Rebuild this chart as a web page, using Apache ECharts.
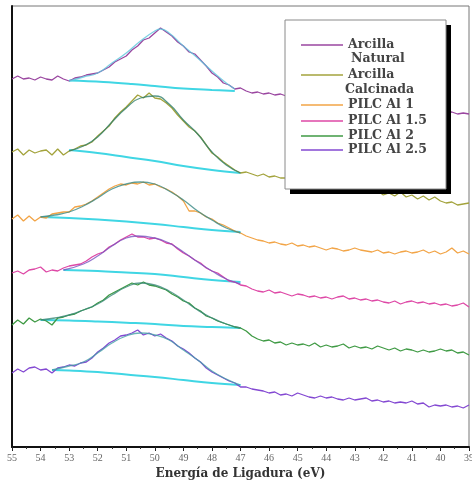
<!DOCTYPE html>
<html>
<head>
<meta charset="utf-8">
<script src="https://cdn.jsdelivr.net/npm/echarts@6/dist/echarts.min.js"></script>
<style>
html, body { margin: 0; padding: 0; background: #ffffff; }
#chart { width: 472px; height: 483px; }
</style>
</head>
<body>
<div id="chart"></div>
<script>
// XPS Al 2p region, binding energy (eV), stacked spectra with peak fit and Shirley background

// Acquisition grid: 55 -> 39 eV, 0.2 eV step
const energies = [];
for (let i = 0; i <= 80; i++) energies.push(+(55 - 0.2 * i).toFixed(1));

const sampleNames = ['Arcilla Natural', 'Arcilla Calcinada', 'PILC Al 1', 'PILC Al 1.5', 'PILC Al 2', 'PILC Al 2.5'];
const sampleColors = ['#9a46a0', '#a3a33c', '#f2a446', '#de48a6', '#3f9a44', '#8348d2'];
const fitColors = ['#5cc6dc', '#2f7f6c', '#3a8a86', '#7a55c0', '#3a8a78', '#45a0a8'];
const backgroundColor = '#40d6e4';

// Measured intensities (a.u., offset per sample)
const naturalCounts = [368, 371, 368, 369, 367, 370, 368, 367, 371, 368, 366, 369, 370, 372, 373, 374, 377, 380, 385, 388,
  391, 397, 401, 407, 409, 414, 419, 415, 411, 405, 401, 395, 393, 387, 381, 374, 370, 364, 362, 358,
  359, 356, 354, 355, 353, 354, 352, 353, 351, 352, 350, 349, 350, 348, 347, 348, 346, 345, 346, 344,
  343, 344, 342, 341, 342, 340, 339, 340, 338, 337, 338, 336, 337, 335, 336, 335, 334, 335, 333, 334, 333];
const calcinedCounts = [295, 298, 292, 297, 294, 296, 297, 292, 298, 292, 296, 298, 301, 302, 305, 311, 316, 321, 329, 335,
  340, 346, 352, 349, 354, 349, 348, 344, 339, 332, 326, 320, 316, 310, 302, 294, 290, 285, 281, 277,
  274, 275, 273, 271, 273, 270, 271, 269, 269, 267, 268, 266, 265, 266, 264, 263, 264, 262, 261, 262,
  260, 259, 260, 257, 256, 252, 254, 251, 255, 250, 252, 248, 251, 247, 250, 246, 244, 245, 242, 243, 244];
const pilc1Counts = [228, 232, 226, 231, 226, 230, 229, 233, 234, 235, 235, 240, 241, 243, 246, 250, 254, 258, 261, 263,
  262, 264, 263, 265, 262, 263, 260, 258, 255, 251, 246, 236, 236, 234, 230, 228, 224, 222, 219, 216,
  214, 211, 209, 207, 206, 204, 205, 203, 202, 204, 201, 202, 200, 201, 199, 197, 199, 198, 196, 197,
  199, 197, 196, 195, 197, 194, 195, 193, 195, 196, 194, 195, 197, 194, 196, 193, 195, 199, 194, 196, 193];
const pilc15Counts = [174, 176, 173, 177, 178, 180, 175, 177, 176, 179, 181, 182, 183, 186, 190, 193, 195, 200, 203, 207,
  210, 213, 210, 210, 208, 209, 207, 204, 203, 198, 194, 191, 187, 184, 179, 176, 174, 170, 166, 165,
  162, 161, 158, 156, 155, 157, 154, 155, 153, 151, 153, 152, 150, 151, 149, 150, 148, 150, 151, 148,
  149, 147, 148, 146, 147, 145, 144, 146, 143, 145, 146, 144, 145, 143, 144, 142, 143, 141, 142, 144, 140];
const pilc2Counts = [122, 127, 123, 129, 125, 128, 126, 122, 129, 130, 132, 133, 136, 138, 140, 144, 147, 152, 155, 158,
  161, 164, 162, 165, 162, 161, 159, 157, 153, 150, 146, 144, 139, 136, 131, 129, 126, 124, 122, 120,
  119, 116, 111, 108, 106, 107, 104, 105, 102, 104, 102, 103, 101, 104, 100, 102, 100, 101, 103, 99,
  101, 99, 100, 98, 101, 99, 97, 99, 96, 98, 97, 95, 97, 95, 96, 98, 96, 97, 94, 95, 92];
const pilc25Counts = [74, 78, 75, 79, 80, 77, 78, 74, 79, 80, 82, 81, 84, 85, 89, 95, 99, 104, 107, 111,
  112, 114, 117, 112, 114, 111, 113, 109, 106, 101, 98, 94, 89, 85, 79, 75, 72, 69, 66, 64,
  60, 60, 58, 57, 56, 54, 55, 52, 53, 51, 54, 52, 50, 49, 51, 49, 50, 48, 47, 49,
  47, 48, 49, 46, 47, 45, 46, 44, 45, 44, 46, 43, 44, 40, 42, 41, 42, 40, 41, 39, 42];

// Peak fit envelopes
const naturalFitE = [53.0, 52.5, 52.0, 51.5, 51.0, 50.5, 50.0, 49.8, 49.5, 49.0, 48.5, 48.0, 47.5, 47.2];
const naturalFit = [366, 370, 374, 384, 394, 406, 416, 418, 414, 401, 389, 376, 364, 358];
const calcinedFitE = [53.0, 52.5, 52.0, 51.5, 51.0, 50.5, 50.0, 49.5, 49.0, 48.5, 48.0, 47.5, 47.0];
const calcinedFit = [296, 301, 310, 325, 339, 349, 351, 343, 327, 313, 295, 282, 274];
const pilc1FitE = [54.0, 53.5, 53.0, 52.5, 52.0, 51.5, 51.0, 50.5, 50.0, 49.5, 49.0, 48.5, 48.0, 47.5, 47.0];
const pilc1Fit = [230, 232, 235, 241, 249, 258, 263, 265, 263, 256, 247, 236, 227, 219, 214];
const pilc15FitE = [53.2, 52.5, 52.0, 51.5, 51.0, 50.6, 50.0, 49.5, 49.0, 48.5, 48.0, 47.5, 47.0];
const pilc15Fit = [177, 183, 191, 201, 209, 211, 209, 204, 195, 185, 176, 168, 163];
const pilc2FitE = [54.0, 53.5, 53.0, 52.5, 52.0, 51.5, 51.0, 50.5, 50.0, 49.5, 49.0, 48.5, 48.0, 47.5, 47.0];
const pilc2Fit = [127, 129, 132, 137, 143, 152, 160, 164, 162, 156, 147, 137, 129, 123, 119];
const pilc25FitE = [53.6, 53.0, 52.5, 52.0, 51.5, 51.0, 50.5, 50.0, 49.5, 49.0, 48.5, 48.0, 47.5, 47.0];
const pilc25Fit = [77, 81, 85, 94, 104, 111, 114, 112, 107, 97, 87, 76, 68, 62];

// Shirley backgrounds
const naturalBgE = [53.0, 51.8, 50.8, 50.0, 49.0, 48.0, 47.2];
const naturalBg = [366.5, 365, 363, 361, 358.5, 357, 356];
const calcinedBgE = [53.0, 52.0, 51.0, 50.0, 49.0, 48.0, 47.0];
const calcinedBg = [297, 294, 290, 286, 281, 277, 274];
const pilc1BgE = [54.0, 53.0, 52.0, 51.0, 50.0, 49.0, 48.0, 47.0];
const pilc1Bg = [230, 229, 227.5, 225.5, 223, 220, 217, 215];
const pilc15BgE = [53.2, 52.0, 51.0, 50.0, 49.0, 48.0, 47.0];
const pilc15Bg = [177, 176, 174.5, 173, 170, 167, 165];
const pilc2BgE = [54.0, 53.0, 52.0, 51.0, 50.0, 49.0, 48.0, 47.0];
const pilc2Bg = [127, 126.5, 125.5, 124.3, 123, 121, 120, 119];
const pilc25BgE = [53.6, 53.0, 52.0, 51.0, 50.0, 49.0, 48.0, 47.0];
const pilc25Bg = [77, 76.5, 75, 72.5, 70, 67, 64, 62];

const xTicks = { min: 39, max: 55, interval: 1 };

const spectra = [
  { counts: naturalCounts, fitE: naturalFitE, fit: naturalFit, bgE: naturalBgE, bg: naturalBg },
  { counts: calcinedCounts, fitE: calcinedFitE, fit: calcinedFit, bgE: calcinedBgE, bg: calcinedBg },
  { counts: pilc1Counts, fitE: pilc1FitE, fit: pilc1Fit, bgE: pilc1BgE, bg: pilc1Bg },
  { counts: pilc15Counts, fitE: pilc15FitE, fit: pilc15Fit, bgE: pilc15BgE, bg: pilc15Bg },
  { counts: pilc2Counts, fitE: pilc2FitE, fit: pilc2Fit, bgE: pilc2BgE, bg: pilc2Bg },
  { counts: pilc25Counts, fitE: pilc25FitE, fit: pilc25Fit, bgE: pilc25BgE, bg: pilc25Bg }
];

const pair = (xs, ys) => xs.map((x, i) => [x, ys[i]]);

const series = [];
spectra.forEach((s, k) => {
  series.push({
    name: sampleNames[k] + ' fondo', type: 'line', showSymbol: false, smooth: 0.4,
    data: pair(s.bgE, s.bg), z: 2,
    lineStyle: { color: backgroundColor, width: 2 }, itemStyle: { color: backgroundColor }
  });
  series.push({
    name: sampleNames[k], type: 'line', showSymbol: false,
    data: pair(energies, s.counts), z: 3,
    lineStyle: { color: sampleColors[k], width: 1.3 }, itemStyle: { color: sampleColors[k] }
  });
  series.push({
    name: sampleNames[k] + ' ajuste', type: 'line', showSymbol: false, smooth: 0.5,
    data: pair(s.fitE, s.fit), z: 4,
    lineStyle: { color: fitColors[k], width: 1.3, opacity: 0.8 }, itemStyle: { color: fitColors[k] }
  });
});

// Legend panel (boxed, with drop shadow)
const legendRows = [
  { lines: ['Arcilla', 'Natural'], y: 45, second: { x: 351, y: 59 } },
  { lines: ['Arcilla', 'Calcinada'], y: 75, second: { x: 345, y: 90 } },
  { lines: ['PILC Al 1'], y: 105 },
  { lines: ['PILC Al 1.5'], y: 121 },
  { lines: ['PILC Al 2'], y: 136 },
  { lines: ['PILC Al 2.5'], y: 150 }
];
const legendFont = { fontFamily: 'DejaVu Serif', fontSize: 12.5, fontWeight: 'bold', fill: '#444' };
const legendGraphics = [
  { type: 'rect', shape: { x: 290, y: 25, width: 161, height: 169 }, style: { fill: '#000' }, z: 100 },
  { type: 'rect', shape: { x: 285, y: 20, width: 161, height: 169 }, style: { fill: '#fff', stroke: '#8a8a8a', lineWidth: 1 }, z: 101 }
];
legendRows.forEach((r, k) => {
  legendGraphics.push({ type: 'line', shape: { x1: 301, y1: r.y, x2: 343, y2: r.y },
    style: { stroke: sampleColors[k], lineWidth: 1.6 }, z: 102 });
  legendGraphics.push({ type: 'text', x: 348, y: r.y,
    style: Object.assign({ text: r.lines[0], verticalAlign: 'middle' }, legendFont), z: 102 });
  if (r.second) {
    legendGraphics.push({ type: 'text', x: r.second.x, y: r.second.y,
      style: Object.assign({ text: r.lines[1], verticalAlign: 'middle' }, legendFont), z: 102 });
  }
});

const chart = echarts.init(document.getElementById('chart'), null, { renderer: 'canvas' });
chart.setOption({
  animation: false,
  backgroundColor: '#ffffff',
  grid: { left: 12, right: 3, top: 6, bottom: 36, outerBoundsMode: 'none', containLabel: false,
    show: true, borderColor: '#777', borderWidth: 1 },
  xAxis: {
    type: 'value', inverse: true,
    min: xTicks.min, max: xTicks.max, interval: xTicks.interval,
    name: 'Energía de Ligadura (eV)', nameLocation: 'middle', nameGap: 13,
    nameTextStyle: { fontFamily: 'DejaVu Serif', fontSize: 12, fontWeight: 'bold', color: '#333' },
    axisLine: { show: true, onZero: false, lineStyle: { color: '#111', width: 2 } },
    axisTick: { show: true, length: 4, lineStyle: { color: '#222', width: 1 } },
    minorTick: { show: true, splitNumber: 2, length: 2, lineStyle: { color: '#333' } },
    axisLabel: { fontFamily: 'Liberation Serif', fontSize: 10, color: '#666', margin: 6 },
    splitLine: { show: false }
  },
  yAxis: {
    type: 'value', min: 0, max: 441,
    axisLine: { show: true, lineStyle: { color: '#111', width: 2 } },
    axisTick: { show: false }, axisLabel: { show: false }, splitLine: { show: false }
  },
  series: series,
  graphic: legendGraphics
});
</script>
</body>
</html>
